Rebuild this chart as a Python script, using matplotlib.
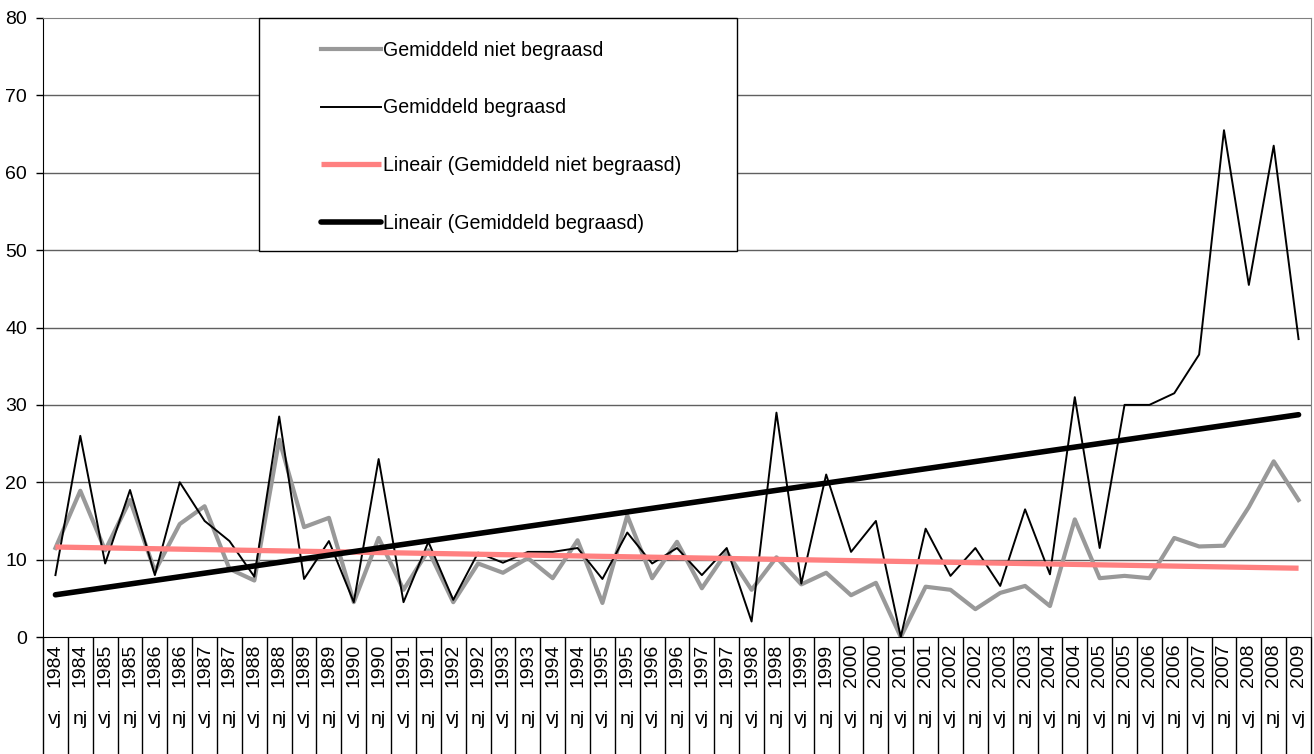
import numpy as np
import matplotlib.pyplot as plt
from matplotlib.transforms import blended_transform_factory
from matplotlib.patches import Rectangle

plt.rcParams['font.family'] = ['Liberation Sans', 'DejaVu Sans']

# periods: voorjaar (vj) / najaar (nj)
years = [1984, 1984, 1985, 1985, 1986, 1986, 1987, 1987, 1988, 1988,
         1989, 1989, 1990, 1990, 1991, 1991, 1992, 1992, 1993, 1993,
         1994, 1994, 1995, 1995, 1996, 1996, 1997, 1997, 1998, 1998,
         1999, 1999, 2000, 2000, 2001, 2001, 2002, 2002, 2003, 2003,
         2004, 2004, 2005, 2005, 2006, 2006, 2007, 2007, 2008, 2008, 2009]
seasons = ['vj', 'nj'] * 25 + ['vj']

niet_begraasd = [11.5, 18.9, 11.2, 17.7, 8.5, 14.6, 16.9, 8.8, 7.3, 25.5,
                 14.2, 15.4, 4.5, 12.8, 6.1, 11.2, 4.5, 9.5, 8.3, 10.2,
                 7.6, 12.5, 4.4, 15.7, 7.6, 12.3, 6.3, 11.0, 6.1, 10.3,
                 6.8, 8.3, 5.4, 7.0, 0.0, 6.5, 6.1, 3.6, 5.7, 6.6,
                 4.0, 15.2, 7.6, 7.9, 7.6, 12.8, 11.7, 11.8, 16.8, 22.7, 17.7]
begraasd = [8.0, 26.0, 9.5, 19.0, 8.0, 20.0, 15.0, 12.4, 7.8, 28.5,
            7.5, 12.4, 4.5, 23.0, 4.5, 12.3, 4.8, 10.9, 9.6, 11.0,
            11.0, 11.5, 7.5, 13.5, 9.5, 11.5, 8.0, 11.5, 2.0, 29.0,
            6.9, 21.0, 11.0, 15.0, 0.0, 14.0, 7.9, 11.5, 6.6, 16.5,
            8.1, 31.0, 11.5, 30.0, 30.0, 31.5, 36.5, 65.5, 45.5, 63.5, 38.5]

x = np.arange(len(years))

# linear trends
p_niet = np.polyfit(x, niet_begraasd, 1)
p_beg = np.polyfit(x, begraasd, 1)

fig = plt.figure(figsize=(13.14, 7.54), dpi=100)
ax = fig.add_axes([43/1314, 117/754, 1268/1314, 619/754])

for yv in range(10, 80, 10):
    ax.axhline(yv, color='#606060', lw=1, zorder=0)

ax.plot(x, niet_begraasd, color='#999999', lw=3, label='Gemiddeld niet begraasd', zorder=2)
ax.plot(x, begraasd, color='black', lw=1.4, label='Gemiddeld begraasd', zorder=3)
ax.plot(x, np.polyval(p_niet, x), color='#FF8080', lw=3.8,
        label='Lineair (Gemiddeld niet begraasd)', zorder=4, solid_capstyle='butt')
ax.plot(x, np.polyval(p_beg, x), color='black', lw=4,
        label='Lineair (Gemiddeld begraasd)', zorder=5, solid_capstyle='round')

ax.set_xlim(-0.5, len(years) - 0.5)
ax.set_ylim(0, 80)
ax.set_yticks(range(0, 81, 10))
ax.tick_params(axis='y', direction='out', length=5, width=1, pad=6.5, labelsize=14)
ax.set_xticks([])

for s in ['top', 'right']:
    ax.spines[s].set_color('#808080')
for s in ['left', 'bottom']:
    ax.spines[s].set_color('black')

# two-level category axis
trans = blended_transform_factory(ax.transData, ax.transAxes)
depth = -117/619
ax.vlines(np.arange(len(years) + 1) - 0.5, depth, 0, transform=trans,
          color='black', lw=1, clip_on=False)
for i in range(len(years)):
    ax.text(i, -28/619, str(years[i]), transform=trans, rotation=90,
            ha='center', va='center', fontsize=14)
    ax.text(i, -83/619, seasons[i], transform=trans,
            ha='center', va='center', fontsize=14)

# legend box
ax.add_patch(Rectangle((216/1268, 386/619), 478/1268, 233/619, transform=ax.transAxes,
                       facecolor='white', edgecolor='black', lw=1, zorder=6, clip_on=False))
leg = ax.legend(loc='upper left', bbox_to_anchor=(268/1268, 1 - 13/619), frameon=False,
                fontsize=14.1, borderpad=0, handlelength=3.05, handletextpad=0.12,
                labelspacing=1.97)
leg.set_zorder(7)

fig.savefig('out.png', dpi=100)
